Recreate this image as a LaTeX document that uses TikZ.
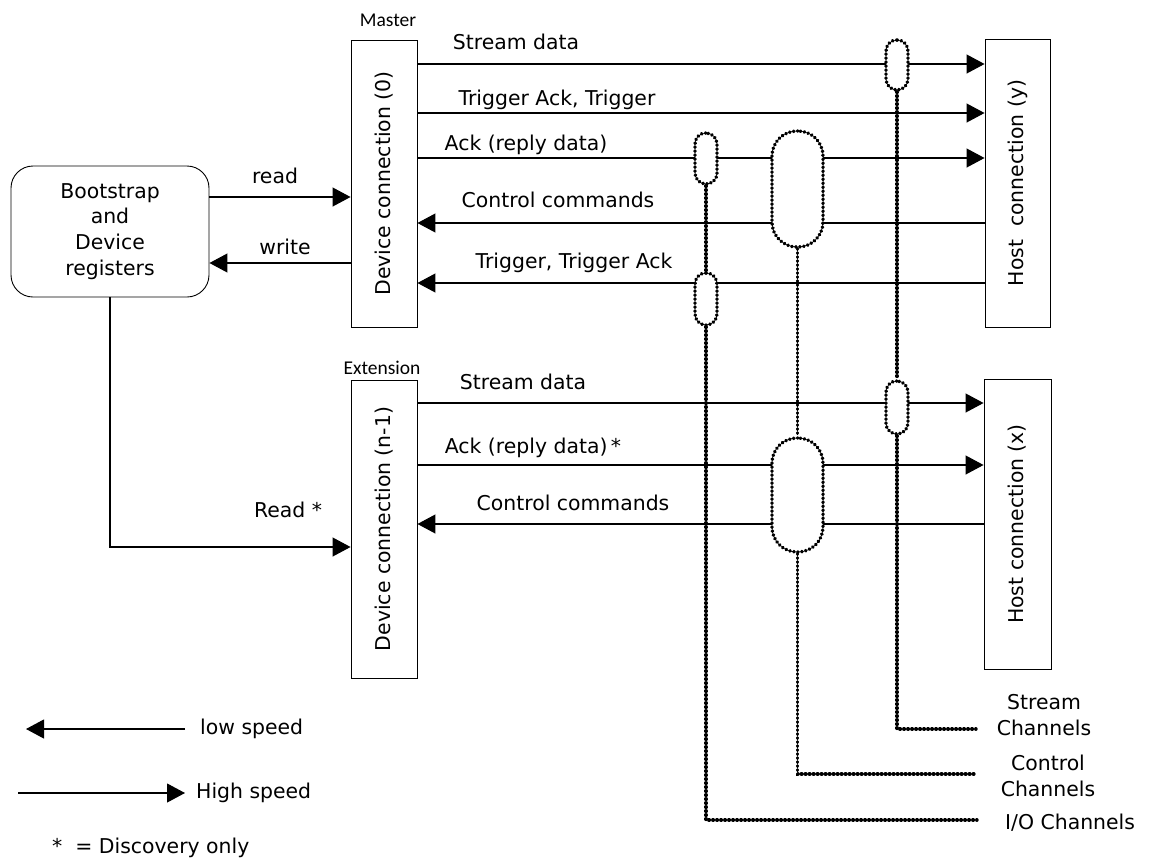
\documentclass[tikz,border=0pt]{standalone}
\usepackage{fontspec}
\setmainfont{DejaVu Sans}
\newfontfamily\smallfam{Carlito}
\usetikzlibrary{arrows.meta}
\begin{document}
\begin{tikzpicture}[x=1pt,y=-1pt,
  every node/.style={font=\fontsize{20.4}{25.7}\selectfont, inner sep=0pt},
  box/.style={draw, line width=0.9pt, fill=white},
  hs/.style={-{Triangle[length=18pt,width=19pt]}, line width=1.1pt},
  dotl/.style={line width=3.4pt, dash pattern=on 0.7pt off 3.3pt, line cap=round},
  oval/.style={draw, dotl, fill=white, rounded corners=#1},
  tag/.style={font=\smallfam\fontsize{19.5}{22}\selectfont}
]
\useasboundingbox (0,0) rectangle (1149,860);

% boxes
\node[draw, line width=0.9pt, rounded corners=22pt, minimum width=198pt, minimum height=131pt, align=center] (boot) at (110,231.5)
  {Bootstrap\\and\\Device\\registers};
\node[box, minimum width=66pt, minimum height=287pt] (m) at (384,183.5) {};
\node[rotate=90] (mt) at (m.center) {Device connection (0)};
\node[box, minimum width=65pt, minimum height=288pt] (hy) at (1017.5,183) {};
\node[rotate=90] (hyt) at (hy.center) {Host\ \ connection (y)};
\node[box, minimum width=66pt, minimum height=298pt] (e) at (384,529) {};
\node[rotate=90] (et) at (e.center) {Device connection (n-1)};
\node[box, minimum width=67pt, minimum height=290pt] (hx) at (1017.5,524) {};
\node[rotate=90] (hxt) at (hx.center) {Host connection (x)};

\node[tag] (mtag) at (388,20) {Master};
\node[tag] (etag) at (382,368) {Extension};

% master arrows
\draw[hs] (m.east |- 0,64) -- (hy.west |- 0,64);
\draw[hs] (m.east |- 0,113) -- (hy.west |- 0,113);
\draw[hs] (m.east |- 0,158) -- (hy.west |- 0,158);
\draw[hs] (hy.west |- 0,223) -- (m.east |- 0,223);
\draw[hs] (hy.west |- 0,283) -- (m.east |- 0,283);
\node (l1) at (516,42) {Stream data};
\node (l2) at (557,100) {Trigger Ack, Trigger};
\node (l3) at (526,145) {Ack (reply data)};
\node (l4) at (558,200) {Control commands};
\node (l5) at (574,263) {Trigger, Trigger Ack};

% bootstrap arrows
\draw[hs] (boot.east |- 0,197) -- (m.west |- 0,197);
\draw[hs] (m.west |- 0,263) -- (boot.east |- 0,263);
\node (lr) at (275,176) {read};
\node (lw) at (285,247) {write};
\draw[hs] (boot.south) |- (e.west |- 0,547);
\node (lR) at (288,510) {Read *};

% extension arrows
\draw[hs] (e.east |- 0,403) -- (hx.west |- 0,403);
\draw[hs] (e.east |- 0,465) -- (hx.west |- 0,465);
\draw[hs] (hx.west |- 0,524) -- (e.east |- 0,524);
\node (le1) at (523,382) {Stream data};
\node (le2) at (533,448) {Ack (reply data)\,*};
\node (le3) at (573,503) {Control commands};

% channel groupings
\coordinate (stend) at (976,729);
\coordinate (ctend) at (976,774);
\coordinate (ioend) at (977,820);
\node[oval=11pt, minimum width=22pt, minimum height=50pt] (s1) at (897,65) {};
\node[oval=11pt, minimum width=22pt, minimum height=53pt] (s2) at (897,407.5) {};
\node[oval=25pt, minimum width=51pt, minimum height=116pt] (c1) at (797.5,189) {};
\node[oval=25pt, minimum width=51pt, minimum height=114pt] (c2) at (797.5,495) {};
\node[oval=11pt, minimum width=22pt, minimum height=51pt] (i1) at (706,158.5) {};
\node[oval=11pt, minimum width=22pt, minimum height=52pt] (i2) at (706,299) {};
\draw[dotl] (s1.south) -- (s2.north);
\draw[dotl] (c1.south) -- (c2.north);
\draw[dotl] (i1.south) -- (i2.north);
\draw[dotl] (s2.south) |- (stend);
\draw[dotl] (c2.south) |- (ctend);
\draw[dotl] (i2.south) |- (ioend);
\node[align=center] (sch) at (1044,715) {Stream\\Channels};
\node[align=center] (cch) at (1048,776) {Control\\Channels};
\node[anchor=west] (ich) at (1005,823) {I/O Channels};

% legend
\coordinate (ls1) at (185,729);
\coordinate (ls2) at (26,729);
\draw[hs] (ls1) -- (ls2);
\node[anchor=west] (lsl) at (200,729) {low speed};
\coordinate (hs1) at (18,793);
\coordinate (hs2) at (185,793);
\draw[hs] (hs1) -- (hs2);
\node[anchor=west] (hsl) at (196,793) {High speed};
\node[anchor=west] (disc) at (52,848) {*\ \ = Discovery only};
\end{tikzpicture}
\end{document}
